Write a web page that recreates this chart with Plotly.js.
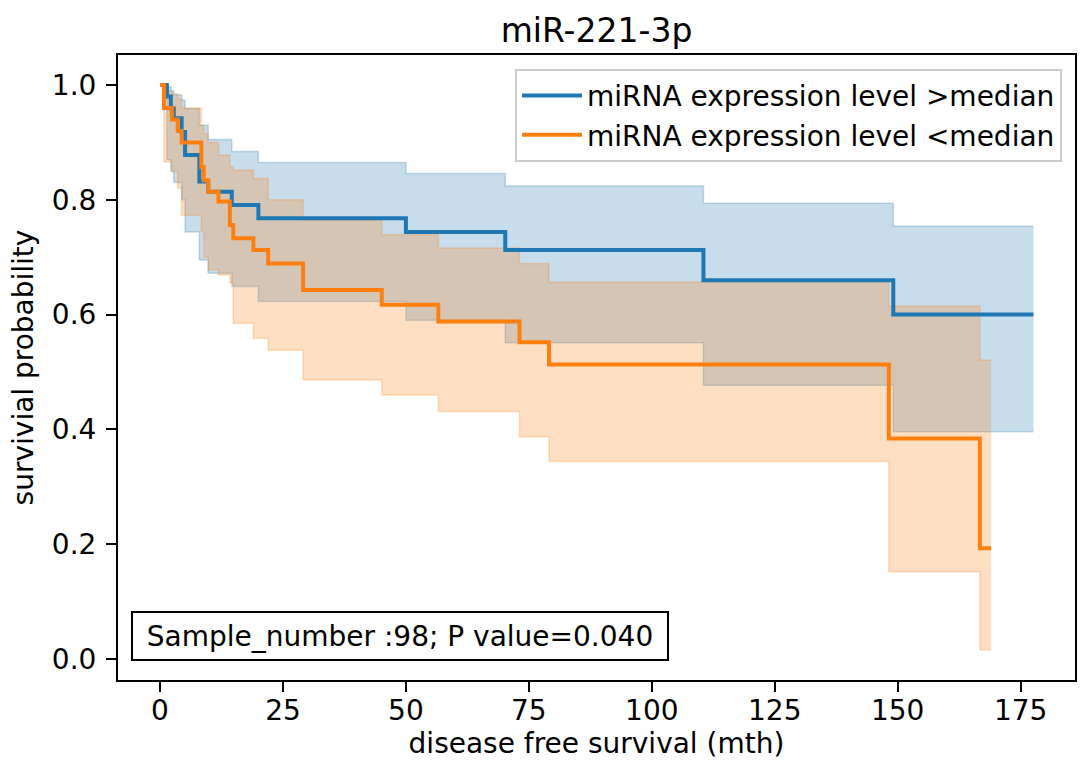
<!DOCTYPE html>
<html>
<head>
<meta charset="utf-8">
<script src="https://cdn.plot.ly/plotly-3.0.1.min.js"></script>
<style>
  html, body { margin: 0; padding: 0; background: #ffffff; }
  #chart { width: 1081px; height: 769px; }
</style>
</head>
<body>
<div id="chart"></div>
<script>
// ---- data ----
const chartTitle = "miR-221-3p";
const xTitle = "disease free survival (mth)";
const yTitle = "survivial probability";
const seriesNames = ["miRNA expression level >median", "miRNA expression level <median"];
const annotationText = "Sample_number :98; P value=0.040";

// group 1: expression > median
const highTime  = [0, 1.4, 2.2, 2.8, 4.4, 5.1, 8.0, 9.8, 14.6, 20.0, 50.0, 70.2, 110.5, 149.1, 177.6];
const highSurv  = [1.0, 0.98, 0.959, 0.942, 0.918, 0.878, 0.832, 0.814, 0.791, 0.768, 0.744, 0.7125, 0.660, 0.600, 0.600];
const highUpper = [1.0, 0.997, 0.99, 0.983, 0.974, 0.959, 0.93, 0.905, 0.884, 0.865, 0.846, 0.824, 0.794, 0.754, 0.754];
const highLower = [1.0, 0.87, 0.85, 0.83, 0.80, 0.744, 0.695, 0.672, 0.649, 0.623, 0.59, 0.551, 0.477, 0.396, 0.396];

// group 2: expression < median
const lowTime  = [0, 0.8, 2.4, 3.6, 4.4, 8.4, 8.9, 9.8, 11.9, 14.2, 14.9, 19.0, 22.0, 29.1, 45.1, 56.6, 73.1, 79.1, 148.2, 166.7, 169.0];
const lowSurv  = [1.0, 0.96, 0.94, 0.92, 0.90, 0.857, 0.834, 0.814, 0.797, 0.756, 0.733, 0.7125, 0.689, 0.643, 0.617, 0.588, 0.552, 0.513, 0.384, 0.193, 0.193];
const lowUpper = [1.0, 0.99, 0.985, 0.975, 0.96, 0.93, 0.915, 0.90, 0.878, 0.858, 0.852, 0.837, 0.80, 0.765, 0.739, 0.716, 0.689, 0.657, 0.615, 0.521, 0.521];
const lowLower = [1.0, 0.866, 0.849, 0.82, 0.773, 0.744, 0.70, 0.678, 0.669, 0.655, 0.585, 0.559, 0.538, 0.486, 0.46, 0.431, 0.387, 0.344, 0.152, 0.016, 0.016];

const xTicks = [0, 25, 50, 75, 100, 125, 150, 175];
const yTicks = [0.0, 0.2, 0.4, 0.6, 0.8, 1.0];

// ---- styles ----
const BLUE = "#1f77b4", ORANGE = "#ff7f0e";
const BLUE_A = "rgba(31,119,180,0.25)", ORANGE_A = "rgba(255,127,14,0.25)";
const FONT = "DejaVu Sans, Liberation Sans, sans-serif";

function band(t, lo, hi, col) {
  return [
    { x: t, y: lo, type: "scatter", mode: "lines", line: { shape: "hv", color: col, width: 1.5 },
      showlegend: false, hoverinfo: "skip" },
    { x: t, y: hi, type: "scatter", mode: "lines", line: { shape: "hv", color: col, width: 1.5 },
      fill: "tonexty", fillcolor: col, showlegend: false, hoverinfo: "skip" }
  ];
}

const traces = [
  ...band(highTime, highLower, highUpper, BLUE_A),
  ...band(lowTime, lowLower, lowUpper, ORANGE_A),
  { x: highTime, y: highSurv, type: "scatter", mode: "lines", name: seriesNames[0],
    line: { shape: "hv", color: BLUE, width: 4 } },
  { x: lowTime, y: lowSurv, type: "scatter", mode: "lines", name: seriesNames[1],
    line: { shape: "hv", color: ORANGE, width: 4 } }
];

const axisCommon = {
  showline: true, linecolor: "#000000", linewidth: 2, mirror: true,
  ticks: "outside", ticklen: 10, tickwidth: 2, tickcolor: "#000000",
  showgrid: false, zeroline: false,
  tickfont: { family: FONT, size: 28, color: "#000000" }
};

const layout = {
  width: 1081, height: 769,
  paper_bgcolor: "#ffffff", plot_bgcolor: "#ffffff",
  margin: { l: 118, r: 6, t: 55, b: 89 },
  font: { family: FONT, color: "#000000" },
  title: { text: chartTitle, x: 0.5, xref: "paper", y: 1 - 30 / 769, yanchor: "middle",
           font: { family: FONT, size: 33, color: "#000000" } },
  xaxis: Object.assign({}, axisCommon, {
    range: [-8.54, 186.05], tickvals: xTicks, ticktext: xTicks.map(String),
    ticklabelstandoff: -6,
    title: { text: xTitle, font: { family: FONT, size: 28, color: "#000000" }, standoff: 6 }
  }),
  yaxis: Object.assign({}, axisCommon, {
    range: [-0.0366, 1.0523], tickvals: yTicks, ticktext: yTicks.map(v => v.toFixed(1)),
    ticklabelstandoff: 4,
    title: { text: yTitle, font: { family: FONT, size: 28, color: "#000000" }, standoff: 10 }
  }),
  legend: {
    x: 0.9864, y: 0.978, xanchor: "right", yanchor: "top",
    traceorder: "normal", itemwidth: 60,
    bgcolor: "rgba(255,255,255,0.8)", bordercolor: "#cccccc", borderwidth: 2,
    font: { family: FONT, size: 28, color: "#000000" }
  },
  annotations: [{
    text: annotationText, xref: "paper", yref: "paper", x: 0.0136, y: 0.0304,
    xanchor: "left", yanchor: "bottom", showarrow: false,
    width: 528, height: 40,
    font: { family: FONT, size: 28, color: "#000000" },
    bgcolor: "#ffffff", bordercolor: "#000000", borderwidth: 2, borderpad: 3
  }],
  showlegend: true
};

Plotly.newPlot("chart", traces, layout, { staticPlot: true, displayModeBar: false });
</script>
</body>
</html>
